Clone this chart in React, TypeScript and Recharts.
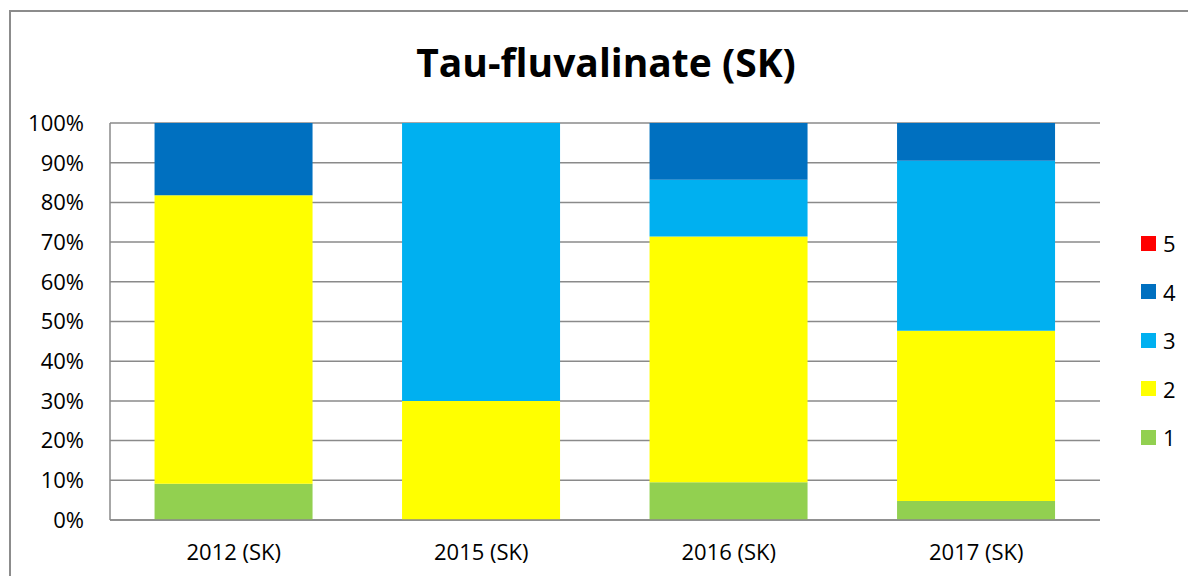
import { BarChart, Bar, XAxis, YAxis, CartesianGrid } from 'recharts'

const CATEGORIES = ['2012 (SK)', '2015 (SK)', '2016 (SK)', '2017 (SK)']

// share of samples per class, in %
const CLASS_1 = [9.1, 0, 9.5, 4.8]
const CLASS_2 = [72.7, 30, 61.9, 42.9]
const CLASS_3 = [0, 70, 14.3, 42.8]
const CLASS_4 = [18.2, 0, 14.3, 9.5]
const CLASS_5 = [0, 0, 0, 0]

const Y_TICKS = [0, 10, 20, 30, 40, 50, 60, 70, 80, 90, 100]

const SERIES = [
  { key: 'c1', name: '1', color: '#92D050', values: CLASS_1 },
  { key: 'c2', name: '2', color: '#FFFF00', values: CLASS_2 },
  { key: 'c3', name: '3', color: '#00B0F0', values: CLASS_3 },
  { key: 'c4', name: '4', color: '#0070C0', values: CLASS_4 },
  { key: 'c5', name: '5', color: '#FF0000', values: CLASS_5 },
]

const data = CATEGORIES.map((cat, i) => {
  const row: Record<string, string | number> = { cat }
  SERIES.forEach(s => { row[s.key] = s.values[i] })
  return row
})

const FONT = '"Open Sans", sans-serif'
const GRID = '#8a8a8a'

export default function App() {
  return (
    <div style={{ position: 'absolute', left: 0, top: 0, width: 1188, height: 576, background: '#fff', overflow: 'hidden', fontFamily: FONT }}>
      <div style={{
        position: 'absolute', left: 9, top: 10, width: 1200, height: 600,
        borderLeft: '2px solid #8c8c8c', borderTop: '2px solid #8c8c8c',
      }} />
      <div style={{
        position: 'absolute', left: 0, width: 1212, top: 42, textAlign: 'center',
        fontSize: 39, lineHeight: '39px', fontWeight: 700, color: '#000',
      }}>
        Tau-fluvalinate (SK)
      </div>
      <div style={{ position: 'absolute', left: 0, top: 0 }}>
        <BarChart width={1188} height={576} data={data}
          margin={{ top: 123, right: 88, bottom: 0, left: 0 }}
          barCategoryGap="18%">
          <CartesianGrid vertical={false} stroke={GRID} strokeWidth={1.5} />
          <XAxis dataKey="cat" height={56} tickLine={false}
            axisLine={{ stroke: GRID, strokeWidth: 1.5 }}
            tickSize={0} tickMargin={24}
            tick={{ fontSize: 22, fill: '#000', fontFamily: FONT }} />
          <YAxis type="number" domain={[0, 100]} ticks={Y_TICKS} width={110}
            tickFormatter={(v: number) => `${v}%`} tickLine={false}
            axisLine={{ stroke: GRID, strokeWidth: 1.5 }}
            tickSize={0} tickMargin={26} interval={0}
            tick={{ fontSize: 22, fill: '#000', fontFamily: FONT }} />
          {SERIES.map(s => (
            <Bar key={s.key} dataKey={s.key} name={s.name} stackId="a"
              fill={s.color} isAnimationActive={false} />
          ))}
        </BarChart>
      </div>
      <div style={{ position: 'absolute', left: 1141, top: 219 }}>
        {[...SERIES].reverse().map(s => (
          <div key={s.key} style={{ display: 'flex', alignItems: 'center', height: 48.5 }}>
            <span style={{ width: 15, height: 15, background: s.color, display: 'inline-block' }} />
            <span style={{ marginLeft: 7, fontSize: 22, color: '#000' }}>{s.name}</span>
          </div>
        ))}
      </div>
    </div>
  )
}
